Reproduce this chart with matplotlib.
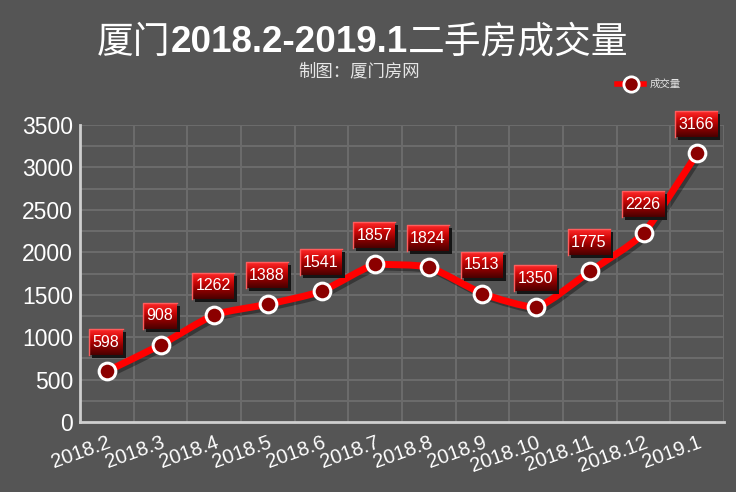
import numpy as np
import matplotlib.pyplot as plt
from matplotlib.path import Path
from matplotlib.patches import PathPatch, Rectangle
from matplotlib.lines import Line2D
from matplotlib.colors import LinearSegmentedColormap
import matplotlib.patheffects as pe

months = ['2018.2', '2018.3', '2018.4', '2018.5', '2018.6', '2018.7',
          '2018.8', '2018.9', '2018.10', '2018.11', '2018.12', '2019.1']
volumes = [598, 908, 1262, 1388, 1541, 1857, 1824, 1513, 1350, 1775, 2226, 3166]
y_ticks = [0, 500, 1000, 1500, 2000, 2500, 3000, 3500]

plt.rcParams['font.family'] = ['Liberation Sans', 'Noto Sans CJK SC', 'DejaVu Sans']

bg = '#555555'
grid_c = '#6b6b6b'
W, H = 736, 492
fig = plt.figure(figsize=(W / 100, H / 100), dpi=100, facecolor=bg)

# plot area in pixels: x 80..724, y 125..422
ax = fig.add_axes([80 / W, (H - 422) / H, 644 / W, 297 / H])
ax.set_facecolor(bg)

x = np.arange(len(months))
y = np.array(volumes, dtype=float)
xmin, xmax, ymin, ymax = -0.5, len(months) - 0.5, 0, 3500
px_x = (xmax - xmin) / 644.0   # data units per pixel
px_y = (ymax - ymin) / 297.0

# grid
for v in np.arange(250, 3501, 250):
    ax.axhline(v, color=grid_c, lw=1.5, zorder=1)
for v in np.arange(0.5, len(months), 1.0):
    ax.axvline(v, color=grid_c, lw=1.5, zorder=1)

# lightly smoothed line, control points kept inside each segment's y range
pts = np.column_stack([x, y])
ext = np.vstack([pts[0], pts, pts[-1]])
k = 0.2
verts = [tuple(pts[0])]
codes = [Path.MOVETO]
for i in range(len(pts) - 1):
    p0, p1, p2, p3 = ext[i], ext[i + 1], ext[i + 2], ext[i + 3]
    c1 = p1 + (p2 - p0) * k / 2
    c2 = p2 - (p3 - p1) * k / 2
    lo, hi = min(p1[1], p2[1]), max(p1[1], p2[1])
    c1[1] = np.clip(c1[1], lo, hi)
    c2[1] = np.clip(c2[1], lo, hi)
    verts += [tuple(c1), tuple(c2), tuple(p2)]
    codes += [Path.CURVE4] * 3
curve = PathPatch(Path(verts, codes), fill=False, edgecolor='#ff0000', lw=5,
                  capstyle='round', joinstyle='round', zorder=3,
                  path_effects=[pe.SimpleLineShadow(offset=(2, -2), alpha=0.35), pe.Normal()])
ax.add_patch(curve)

ax.plot(x, y, 'o', ms=12, mfc='#8b0000', mec='white', mew=2.2, zorder=4)

# value boxes
cmap = LinearSegmentedColormap.from_list('boxred', ['#4a0000', '#8a0000', '#d00808', '#ff2a2a'])
grad = np.linspace(0, 1, 64).reshape(-1, 1)
for xi, yi in zip(x, y):
    label = str(int(yi))
    w = (8 * len(label) + 10) * px_x
    h = 26 * px_y
    cx = xi - 1 * px_x
    cy = yi + 29 * px_y
    ax.add_patch(Rectangle((cx - w / 2 + 3 * px_x, cy - h / 2 - 3 * px_y), w, h,
                           facecolor='#151515', edgecolor='none', zorder=5, clip_on=False))
    ax.imshow(grad, cmap=cmap, origin='lower', aspect='auto', zorder=6, clip_on=False,
              extent=[cx - w / 2, cx + w / 2, cy - h / 2, cy + h / 2])
    ax.plot([cx - w / 2, cx - w / 2, cx + w / 2], [cy - h / 2, cy + h / 2, cy + h / 2],
            color='#ff5c5c', lw=1, zorder=6.5, clip_on=False)
    ax.text(cx, cy, label, color='white', fontsize=11.5, ha='center', va='center',
            zorder=7, clip_on=False)

ax.set_xlim(xmin, xmax)
ax.set_ylim(ymin, ymax)

ax.set_yticks(y_ticks)
ax.set_yticklabels([str(t) for t in y_ticks], fontsize=16.5, color='white')
ax.set_xticks(x)
ax.set_xticklabels(months, fontsize=14.5, color='white', rotation=20,
                   ha='right', rotation_mode='anchor')
ax.tick_params(axis='both', length=0)
ax.tick_params(axis='y', pad=5)
ax.tick_params(axis='x', pad=8)
for s in ['top', 'right']:
    ax.spines[s].set_visible(False)
for s in ['left', 'bottom']:
    ax.spines[s].set_color('#cfcfcf')
    ax.spines[s].set_linewidth(2)
    ax.spines[s].set_zorder(2)

# title in three pieces (mixed weights)
fig.canvas.draw()
r = fig.canvas.get_renderer()
parts = [('厦门', 'normal'), ('2018.2-2019.1', 'bold'), ('二手房成交量', 'normal')]
cur = 97
for txt, wt in parts:
    t = fig.text(cur / W, 1 - 43 / H, txt, fontsize=26.5, color='white',
                 fontweight=wt, ha='left', va='center')
    cur += t.get_window_extent(r).width
fig.text(359 / W, 1 - 71 / H, '制图：厦门房网', fontsize=12.5, color='#e6e6e6',
         ha='center', va='center')

# legend
fig.add_artist(Line2D([617 / W, 644 / W], [1 - 84 / H, 1 - 84 / H], color='#ff0000', lw=4))
fig.add_artist(Line2D([630.5 / W], [1 - 84 / H], marker='o', ms=11, mfc='#8b0000',
                      mec='white', mew=2))
fig.text(650 / W, 1 - 84 / H, '成交量', fontsize=7.5, color='#e6e6e6', ha='left', va='center')

fig.savefig('out.png', dpi=100, facecolor=bg)
